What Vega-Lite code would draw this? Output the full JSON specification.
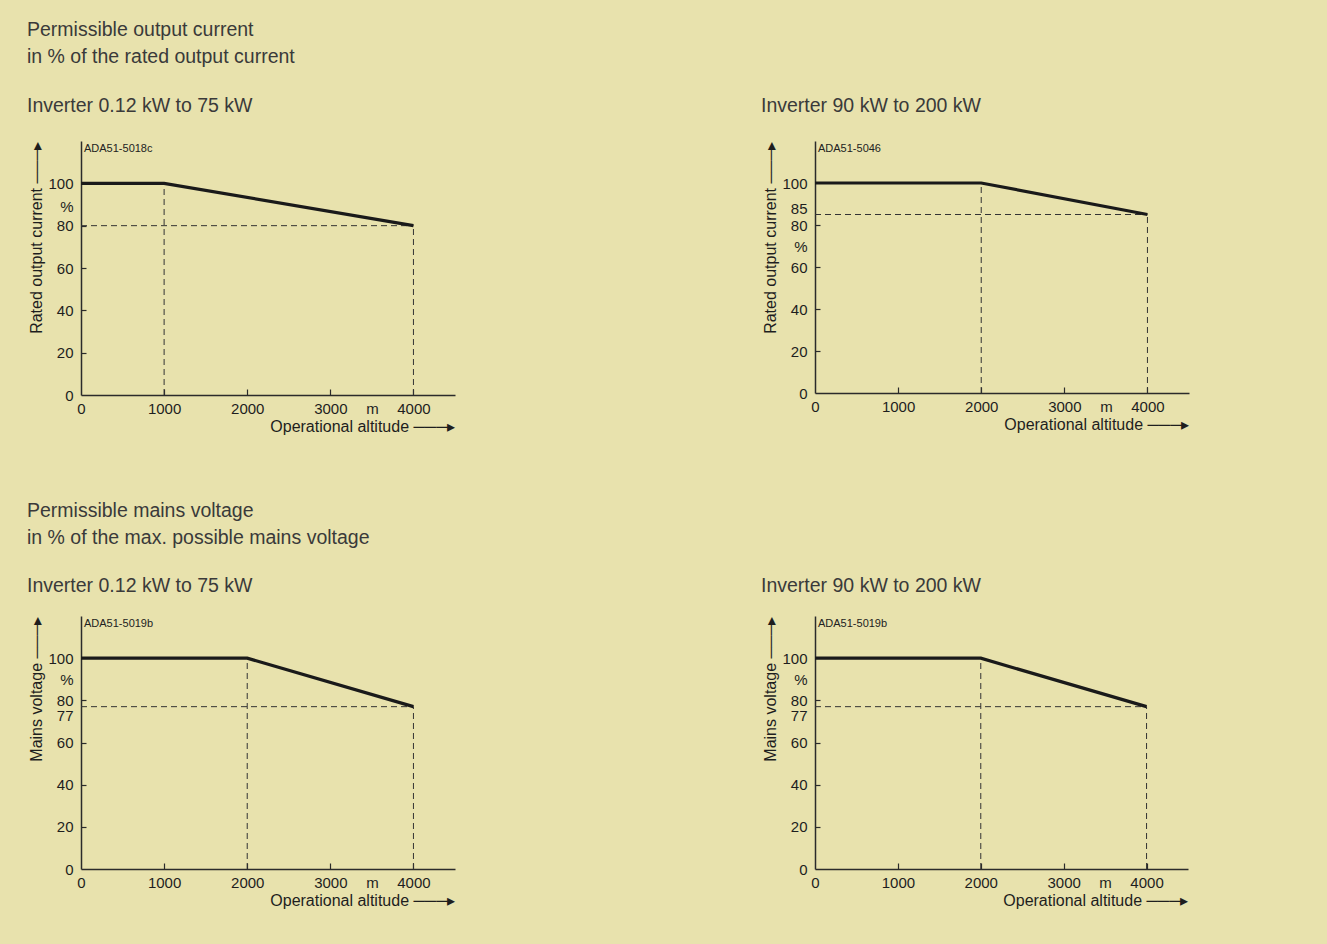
{
  "$schema": "https://vega.github.io/schema/vega-lite/v6.json",
  "background": "#e8e2ad",
  "padding": {"left": 27, "top": 19, "right": 140, "bottom": 40},
  "spacing": 67,
  "vconcat": [
    {
      "title": {"text": ["Permissible output current", "in % of the rated output current"], "offset": 29},
      "spacing": 360,
      "bounds": "flush",
      "hconcat": [
        {
          "width": 374, "height": 254,
          "title": {"text": "Inverter 0.12 kW to 75 kW", "offset": 24.5},
          "encoding": {
            "x": {"field": "x", "type": "quantitative", "scale": {"domain": [0, 4500], "nice": false, "zero": false},
              "axis": {"values": [0, 1000, 2000, 3000, 3500, 4000], "format": "d", "labelExpr": "datum.value == 3500 ? 'm' : datum.label", "title": "Operational altitude ───▸",
                "tickOpacity": {"condition": {"test": "datum.value == 3500 || datum.value == 0", "value": 0}, "value": 1}}},
            "y": {"field": "y", "type": "quantitative", "scale": {"domain": [0, 120], "nice": false},
              "axis": {"values": [0, 20, 40, 60, 80, 89, 100], "labelExpr": "datum.value == 89 ? '%' : datum.label", "title": "Rated output current ───▸",
                "tickOpacity": {"condition": {"test": "datum.value == 89 || datum.value == 0 || datum.value == 100", "value": 0}, "value": 1}}}
          },
          "layer": [
            {"data": {"values": [{"x": 1000, "y": 0, "x2": 1000, "y2": 100}, {"x": 4000, "y": 0, "x2": 4000, "y2": 80}, {"x": 0, "y": 80, "x2": 4000, "y2": 80}]},
              "mark": {"type": "rule", "strokeDash": [6, 4], "strokeWidth": 1, "color": "#333333"},
              "encoding": {"x2": {"field": "x2"}, "y2": {"field": "y2"}}},
            {"data": {"values": [{"x": 0, "y": 100}, {"x": 1000, "y": 100}, {"x": 4000, "y": 80}]},
              "mark": {"type": "line", "strokeWidth": 3.2, "color": "#1a1a1a"}},
            {"data": {"values": [{"x": 0, "y": 120, "label": "ADA51-5018c"}]},
              "mark": {"type": "text", "align": "left", "baseline": "top", "dx": 3, "dy": 2, "fontSize": 11, "color": "#222222"},
              "encoding": {"text": {"field": "label"}}}
          ]
        },
        {
          "width": 374, "height": 252,
          "title": {"text": "Inverter 90 kW to 200 kW", "offset": 24.5},
          "encoding": {
            "x": {"field": "x", "type": "quantitative", "scale": {"domain": [0, 4500], "nice": false, "zero": false},
              "axis": {"values": [0, 1000, 2000, 3000, 3500, 4000], "format": "d", "labelExpr": "datum.value == 3500 ? 'm' : datum.label", "title": "Operational altitude ───▸",
                "tickOpacity": {"condition": {"test": "datum.value == 3500 || datum.value == 0", "value": 0}, "value": 1}}},
            "y": {"field": "y", "type": "quantitative", "scale": {"domain": [0, 120], "nice": false},
              "axis": {"values": [0, 20, 40, 60, 70, 80, 85, 100], "labelExpr": "datum.value == 70 ? '%' : datum.label", "title": "Rated output current ───▸",
                "labelOffset": {"condition": {"test": "datum.value == 85", "value": -6}, "value": 0},
                "tickOpacity": {"condition": {"test": "datum.value == 70 || datum.value == 85 || datum.value == 0 || datum.value == 100", "value": 0}, "value": 1}}}
          },
          "layer": [
            {"data": {"values": [{"x": 2000, "y": 0, "x2": 2000, "y2": 100}, {"x": 4000, "y": 0, "x2": 4000, "y2": 85}, {"x": 0, "y": 85, "x2": 4000, "y2": 85}]},
              "mark": {"type": "rule", "strokeDash": [6, 4], "strokeWidth": 1, "color": "#333333"},
              "encoding": {"x2": {"field": "x2"}, "y2": {"field": "y2"}}},
            {"data": {"values": [{"x": 0, "y": 100}, {"x": 2000, "y": 100}, {"x": 4000, "y": 85}]},
              "mark": {"type": "line", "strokeWidth": 3.2, "color": "#1a1a1a"}},
            {"data": {"values": [{"x": 0, "y": 120, "label": "ADA51-5046"}]},
              "mark": {"type": "text", "align": "left", "baseline": "top", "dx": 3, "dy": 2, "fontSize": 11, "color": "#222222"},
              "encoding": {"text": {"field": "label"}}}
          ]
        }
      ]
    },
    {
      "title": {"text": ["Permissible mains voltage", "in % of the max. possible mains voltage"], "offset": 27},
      "spacing": 360,
      "bounds": "flush",
      "hconcat": [
        {
          "width": 374, "height": 253,
          "title": {"text": "Inverter 0.12 kW to 75 kW", "offset": 20},
          "encoding": {
            "x": {"field": "x", "type": "quantitative", "scale": {"domain": [0, 4500], "nice": false, "zero": false},
              "axis": {"values": [0, 1000, 2000, 3000, 3500, 4000], "format": "d", "labelExpr": "datum.value == 3500 ? 'm' : datum.label", "title": "Operational altitude ───▸",
                "tickOpacity": {"condition": {"test": "datum.value == 3500 || datum.value == 0", "value": 0}, "value": 1}}},
            "y": {"field": "y", "type": "quantitative", "scale": {"domain": [0, 120], "nice": false},
              "axis": {"values": [0, 20, 40, 60, 77, 80, 90, 100], "labelExpr": "datum.value == 90 ? '%' : datum.label", "title": "Mains voltage ───▸",
                "labelOffset": {"condition": {"test": "datum.value == 77", "value": 9}, "value": 0},
                "tickOpacity": {"condition": {"test": "datum.value == 90 || datum.value == 77 || datum.value == 0 || datum.value == 100", "value": 0}, "value": 1}}}
          },
          "layer": [
            {"data": {"values": [{"x": 2000, "y": 0, "x2": 2000, "y2": 100}, {"x": 4000, "y": 0, "x2": 4000, "y2": 77}, {"x": 0, "y": 77, "x2": 4000, "y2": 77}]},
              "mark": {"type": "rule", "strokeDash": [6, 4], "strokeWidth": 1, "color": "#333333"},
              "encoding": {"x2": {"field": "x2"}, "y2": {"field": "y2"}}},
            {"data": {"values": [{"x": 0, "y": 100}, {"x": 2000, "y": 100}, {"x": 4000, "y": 77}]},
              "mark": {"type": "line", "strokeWidth": 3.2, "color": "#1a1a1a"}},
            {"data": {"values": [{"x": 0, "y": 120, "label": "ADA51-5019b"}]},
              "mark": {"type": "text", "align": "left", "baseline": "top", "dx": 3, "dy": 2, "fontSize": 11, "color": "#222222"},
              "encoding": {"text": {"field": "label"}}}
          ]
        },
        {
          "width": 373, "height": 253,
          "title": {"text": "Inverter 90 kW to 200 kW", "offset": 20},
          "encoding": {
            "x": {"field": "x", "type": "quantitative", "scale": {"domain": [0, 4500], "nice": false, "zero": false},
              "axis": {"values": [0, 1000, 2000, 3000, 3500, 4000], "format": "d", "labelExpr": "datum.value == 3500 ? 'm' : datum.label", "title": "Operational altitude ───▸",
                "tickOpacity": {"condition": {"test": "datum.value == 3500 || datum.value == 0", "value": 0}, "value": 1}}},
            "y": {"field": "y", "type": "quantitative", "scale": {"domain": [0, 120], "nice": false},
              "axis": {"values": [0, 20, 40, 60, 77, 80, 90, 100], "labelExpr": "datum.value == 90 ? '%' : datum.label", "title": "Mains voltage ───▸",
                "labelOffset": {"condition": {"test": "datum.value == 77", "value": 9}, "value": 0},
                "tickOpacity": {"condition": {"test": "datum.value == 90 || datum.value == 77 || datum.value == 0 || datum.value == 100", "value": 0}, "value": 1}}}
          },
          "layer": [
            {"data": {"values": [{"x": 2000, "y": 0, "x2": 2000, "y2": 100}, {"x": 4000, "y": 0, "x2": 4000, "y2": 77}, {"x": 0, "y": 77, "x2": 4000, "y2": 77}]},
              "mark": {"type": "rule", "strokeDash": [6, 4], "strokeWidth": 1, "color": "#333333"},
              "encoding": {"x2": {"field": "x2"}, "y2": {"field": "y2"}}},
            {"data": {"values": [{"x": 0, "y": 100}, {"x": 2000, "y": 100}, {"x": 4000, "y": 77}]},
              "mark": {"type": "line", "strokeWidth": 3.2, "color": "#1a1a1a"}},
            {"data": {"values": [{"x": 0, "y": 120, "label": "ADA51-5019b"}]},
              "mark": {"type": "text", "align": "left", "baseline": "top", "dx": 3, "dy": 2, "fontSize": 11, "color": "#222222"},
              "encoding": {"text": {"field": "label"}}}
          ]
        }
      ]
    }
  ],
  "config": {
    "font": "Liberation Sans",
    "view": {"stroke": null},
    "title": {"anchor": "start", "frame": "group", "fontSize": 19.5, "fontWeight": "normal", "color": "#3a3a3a", "dx": -54, "lineHeight": 27, "font": "Liberation Sans"},
    "axis": {"grid": false, "domainColor": "#2b2b2b", "domainWidth": 1.5, "tickColor": "#2b2b2b", "tickWidth": 1.2,
      "labelFont": "Liberation Sans", "labelFontSize": 15, "labelColor": "#1e1e1e", "labelOverlap": false, "labelBound": false, "labelFlush": false,
      "titleFont": "Liberation Sans", "titleFontSize": 16, "titleFontWeight": "normal", "titleColor": "#1e1e1e"},
    "axisX": {"tickSize": -6, "labelPadding": 12, "titleAnchor": "end", "titlePadding": 2},
    "axisY": {"tickSize": -5, "labelPadding": 13, "titleAnchor": "end", "titlePadding": 3}
  }
}
